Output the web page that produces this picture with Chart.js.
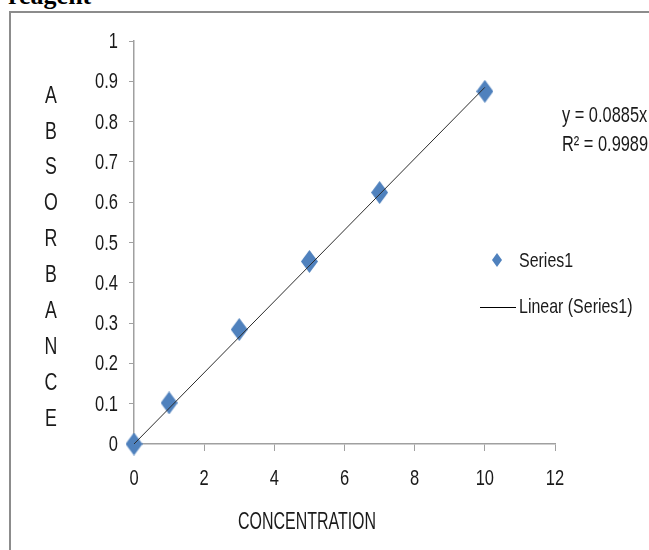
<!DOCTYPE html>
<html>
<head>
<meta charset="utf-8">
<script src="https://cdn.jsdelivr.net/npm/chart.js@4.4.1/dist/chart.umd.min.js"></script>
<style>
    html, body { margin: 0; padding: 0; background: #fff; }
    body { width: 649px; height: 550px; position: relative; overflow: hidden; }
    #frame { position: absolute; left: 9px; top: 11px; width: 700px; height: 600px; border: 2px solid #8c8c8c; }
    #caption { position: absolute; left: 8px; top: -17px; font: bold 26px "Liberation Serif", "Times New Roman", serif; line-height: 1; color: #000; }
    #chart { position: absolute; left: 0; top: 0; }
</style>
</head>
<body>
<div id="frame"></div>
<div id="caption">reagent</div>
<canvas id="chart" width="649" height="550"></canvas>
<script>
// valeurs
const concentration = [0, 1, 3, 5, 7, 10];
const absorbance = [0, 0.102, 0.284, 0.453, 0.624, 0.875];
const trendX = [0, 10];
const trendY = [0, 0.885];
const yTitleLetters = ['A', 'B', 'S', 'O', 'R', 'B', 'A', 'N', 'C', 'E'];
const equationLines = ['y = 0.0885x', 'R² = 0.9989'];
const legendLabels = ['Series1', 'Linear (Series1)'];

const BLUE = '#4f81bd';
const AXIS = '#a0a0a0';
const INK = '#1a1a1a';

// marqueur losange un peu plus haut que large, comme dans Excel
function makeDiamond(w, h) {
    const c = document.createElement('canvas');
    c.width = w; c.height = h;
    const g = c.getContext('2d');
    g.fillStyle = BLUE;
    g.beginPath();
    g.moveTo(w / 2, 0);
    g.lineTo(w, h / 2);
    g.lineTo(w / 2, h);
    g.lineTo(0, h / 2);
    g.closePath();
    g.fill();
    return c;
}
const bigDiamond = makeDiamond(17, 23);
const smallDiamond = makeDiamond(10, 14);

// l'image d'origine est tassée en largeur : Liberation Sans compressé horizontalement
function narrowText(ctx, text, x, y, size, align, sx) {
    ctx.save();
    ctx.font = size + 'px "Liberation Sans", Arial, sans-serif';
    ctx.textAlign = align;
    ctx.textBaseline = 'middle';
    ctx.fillStyle = INK;
    ctx.translate(x, y);
    ctx.scale(sx, 1);
    ctx.fillText(text, 0, 0);
    ctx.restore();
}

const fmt = v => String(Math.round(v * 10) / 10);

const extras = {
    id: 'extras',
    afterDraw(chart) {
        const ctx = chart.ctx;
        const xs = chart.scales.x, ys = chart.scales.y;

        // étiquettes des graduations, placées par les échelles de Chart.js
        xs.ticks.forEach(t => narrowText(ctx, fmt(t.value), xs.getPixelForValue(t.value), 479, 22, 'center', 0.75));
        ys.ticks.forEach(t => narrowText(ctx, fmt(t.value), 118, ys.getPixelForValue(t.value) + 1, 22, 'right', 0.75));

        // titre vertical, lettres empilées
        yTitleLetters.forEach((ch, i) => narrowText(ctx, ch, 51, 96 + i * 35.9, 24, 'center', 0.74));

        // titre de l'axe x
        narrowText(ctx, 'CONCENTRATION', 307, 522, 24, 'center', 0.665);

        // équation de la tendance
        narrowText(ctx, equationLines[0], 562, 116, 22, 'left', 0.745);
        narrowText(ctx, equationLines[1], 562, 145, 22, 'left', 0.745);

        // légende
        ctx.drawImage(smallDiamond, 492, 253);
        narrowText(ctx, legendLabels[0], 519, 261, 21, 'left', 0.76);
        ctx.save();
        ctx.strokeStyle = '#000';
        ctx.lineWidth = 1;
        ctx.beginPath();
        ctx.moveTo(480, 307.5);
        ctx.lineTo(516, 307.5);
        ctx.stroke();
        ctx.restore();
        narrowText(ctx, legendLabels[1], 519, 307, 21, 'left', 0.76);
    }
};

new Chart(document.getElementById('chart'), {
    type: 'scatter',
    data: {
        datasets: [
            {
                type: 'line',
                label: legendLabels[1],
                data: trendX.map((x, i) => ({ x: x, y: trendY[i] })),
                borderColor: '#2b2b2b',
                borderWidth: 1,
                pointRadius: 0,
                fill: false,
                clip: false,
                order: 0
            },
            {
                label: legendLabels[0],
                data: concentration.map((x, i) => ({ x: x, y: absorbance[i] })),
                pointStyle: bigDiamond,
                pointRadius: 10,
                backgroundColor: BLUE,
                clip: false,
                order: 1
            }
        ]
    },
    options: {
        responsive: false,
        animation: false,
        layout: { padding: { top: 41, right: 94, left: 0, bottom: 0 } },
        plugins: {
            legend: { display: false },
            tooltip: { enabled: false }
        },
        scales: {
            x: {
                type: 'linear',
                min: 0,
                max: 12,
                afterFit: s => { s.height = 106; },
                ticks: { stepSize: 2, display: false },
                grid: { drawOnChartArea: false, color: AXIS, tickLength: 7 },
                border: { color: AXIS, width: 1.5 }
            },
            y: {
                min: 0,
                max: 1,
                afterFit: s => { s.width = 134; },
                ticks: { stepSize: 0.1, display: false },
                grid: { drawOnChartArea: false, color: AXIS, tickLength: 5 },
                border: { color: AXIS, width: 1.5 }
            }
        }
    },
    plugins: [extras]
});
</script>
</body>
</html>
